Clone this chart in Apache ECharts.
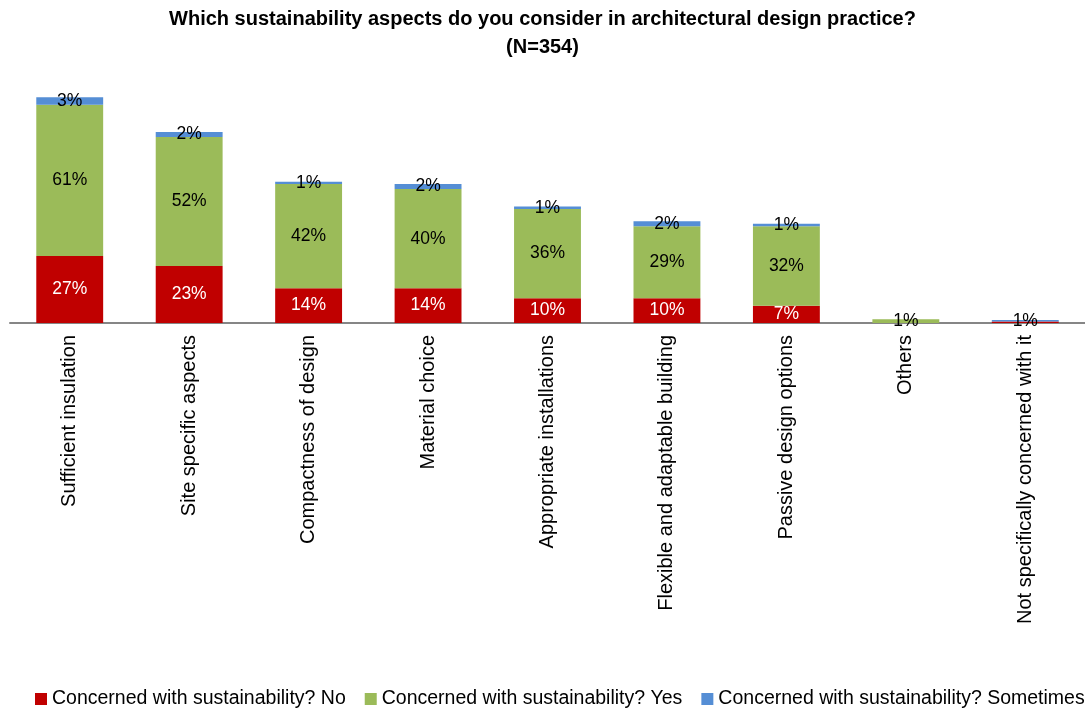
<!DOCTYPE html>
<html><head><meta charset="utf-8">
<script src="https://cdn.jsdelivr.net/npm/echarts@6/dist/echarts.min.js"></script>
<style>html,body{margin:0;padding:0;background:#fff}#c{width:1085px;height:708px}</style>
</head><body><div id="c"></div>
<script>
const categories = ["Sufficient insulation","Site specific aspects","Compactness of design","Material choice","Appropriate installations","Flexible and adaptable building","Passive design options","Others","Not specifically concerned with it"];
const seriesNames = ["Concerned with sustainability? No","Concerned with sustainability? Yes","Concerned with sustainability? Sometimes"];
const valuesNo = [27,23,14,14,10,10,7,0,0.6];
const valuesYes = [61,52,42,40,36,29,32,1.5,0];
const valuesSometimes = [3,2,1,2,1,2,1,0,0.6];
const labelsNo = ["27%","23%","14%","14%","10%","10%","7%","",""];
const labelsYes = ["61%","52%","42%","40%","36%","29%","32%","1%",""];
const labelsSometimes = ["3%","2%","1%","2%","1%","2%","1%","","1%"];

const FONT = "'Liberation Sans', Arial, sans-serif";
function mk(name, vals, labs, color, labColor){
  return {
    name, type:'bar', stack:'t', barCategoryGap:'44%',
    itemStyle:{color},
    label:{show:true, position:'inside', color:labColor, fontSize:17.5, fontFamily:FONT,
      formatter:p=>labs[p.dataIndex]},
    labelLayout:{hideOverlap:false},
    data: vals
  };
}
const chart = echarts.init(document.getElementById('c'));
chart.setOption({
  animation:false,
  title:{text:'Which sustainability aspects do you consider in architectural design practice?\n(N=354)',
    left:'center', top:0,
    textStyle:{fontSize:20, fontWeight:'bold', fontFamily:FONT, color:'#000', lineHeight:28}},
  grid:{left:10, right:0, top:75, bottom:385},
  legend:{bottom:-6, left:30, width:1400, itemWidth:12, itemHeight:12, itemGap:19,
    icon:'rect', textStyle:{fontSize:19.5, fontFamily:FONT, color:'#000'},
    data:seriesNames},
  xAxis:{type:'category', data:categories,
    axisLine:{lineStyle:{color:'#868686', width:2}},
    axisTick:{show:false},
    axisLabel:{rotate:90, interval:0, fontSize:20, fontFamily:FONT, color:'#000', margin:12}},
  yAxis:{type:'value', min:0, max:100, show:false, splitLine:{show:false}},
  series:[
    mk(seriesNames[0], valuesNo, labelsNo, '#C00000', '#fff'),
    mk(seriesNames[1], valuesYes, labelsYes, '#9BBB59', '#000'),
    mk(seriesNames[2], valuesSometimes, labelsSometimes, '#558ED5', '#000')
  ]
});
</script></body></html>
